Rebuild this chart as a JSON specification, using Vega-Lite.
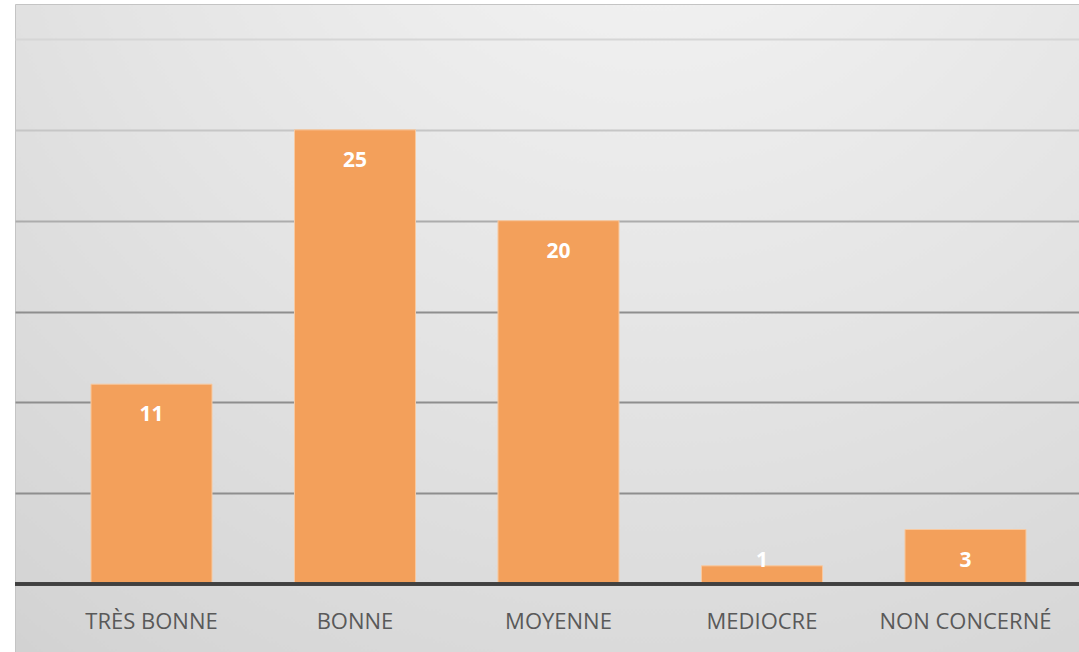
{
  "$schema": "https://vega.github.io/schema/vega-lite/v6.json",
  "width": 1064,
  "height": 648,
  "padding": {"left": 15, "top": 4, "right": 0, "bottom": 0},
  "autosize": {"type": "none"},
  "background": "white",
  "config": {
    "view": {
      "stroke": "#c4c4c4",
      "strokeWidth": 1,
      "fill": {
        "gradient": "radial",
        "x1": 0.6, "y1": 0, "r1": 0,
        "x2": 0.6, "y2": 0, "r2": 1.2,
        "stops": [
          {"offset": 0, "color": "#f6f6f6"},
          {"offset": 0.45, "color": "#e4e4e4"},
          {"offset": 0.8, "color": "#d4d4d4"},
          {"offset": 1, "color": "#c6c6c6"}
        ]
      }
    }
  },
  "data": {
    "values": [
      {"categorie": "TRÈS BONNE", "valeur": 11},
      {"categorie": "BONNE", "valeur": 25},
      {"categorie": "MOYENNE", "valeur": 20},
      {"categorie": "MEDIOCRE", "valeur": 1},
      {"categorie": "NON CONCERNÉ", "valeur": 3}
    ]
  },
  "layer": [
    {
      "mark": {"type": "bar", "color": "#f3a05b", "stroke": "#f8c9a0", "strokeWidth": 1},
      "encoding": {
        "x": {"field": "categorie", "type": "nominal", "sort": null, "title": null,
              "scale": {"paddingInner": 0.4054, "paddingOuter": 0.317, "align": 0.589},
              "axis": {"labelAngle": 0, "ticks": false, "domain": false, "grid": false,
                       "offset": -68, "labelPadding": 27, "labelFont": "Open Sans",
                       "labelFontSize": 22, "labelColor": "#595959", "labelBaseline": "top"}},
        "y": {"field": "valeur", "type": "quantitative", "title": null,
              "scale": {"domain": [-3.743, 31.927], "nice": false, "zero": false},
              "axis": {"values": [5, 10, 15, 20, 25, 30], "labels": false, "ticks": false,
                       "domain": false, "grid": true, "gridWidth": 2,
                       "gridColor": {"condition": [
                         {"test": "datum.value >= 30", "value": "#d6d6d6"},
                         {"test": "datum.value >= 25", "value": "#c6c6c6"},
                         {"test": "datum.value >= 20", "value": "#acacac"}
                       ], "value": "#8e8e8e"}}}
      }
    },
    {
      "transform": [{"calculate": "max(datum.valeur, 3)", "as": "pos"}],
      "mark": {"type": "text", "color": "white", "font": "Open Sans", "fontWeight": "bold",
               "fontSize": 21, "baseline": "middle", "dy": 31},
      "encoding": {
        "x": {"field": "categorie", "type": "nominal", "sort": null},
        "y": {"field": "pos", "type": "quantitative"},
        "text": {"field": "valeur", "type": "quantitative"}
      }
    },
    {
      "mark": {"type": "rule", "strokeWidth": 3, "color": "#404040"},
      "encoding": {
        "y": {"datum": 0}
      }
    }
  ]
}
